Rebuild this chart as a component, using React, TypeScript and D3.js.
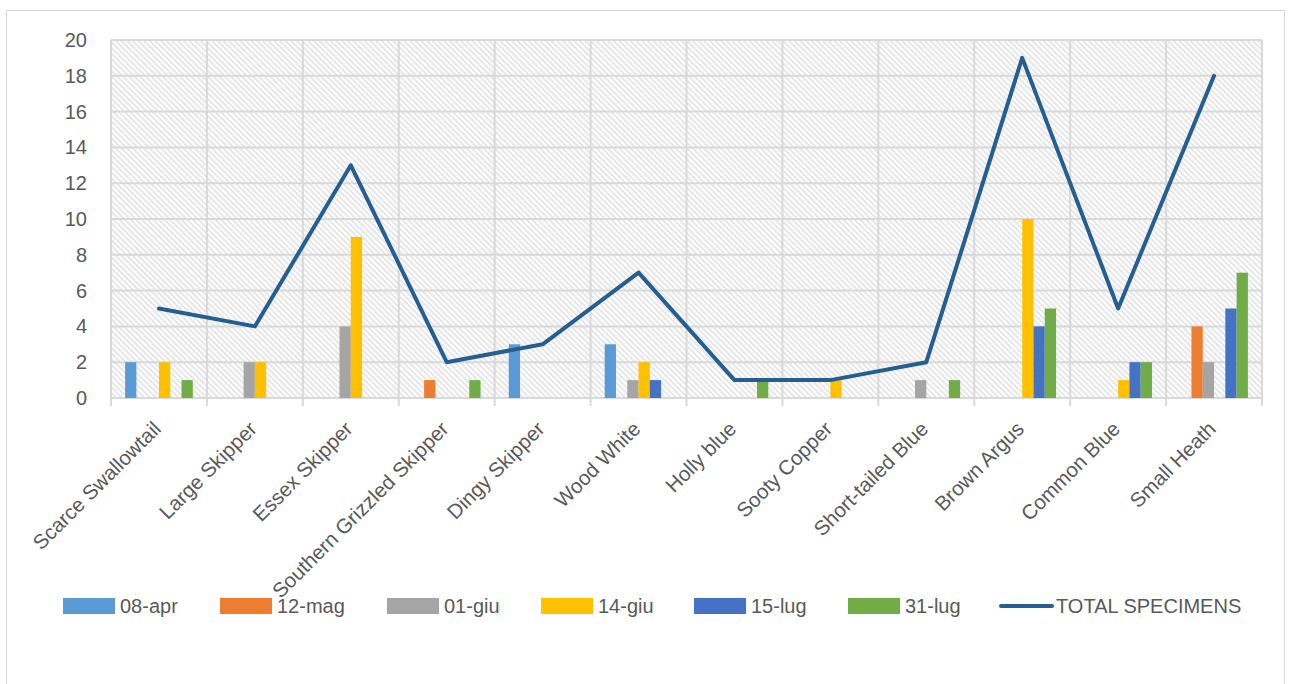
import { useEffect, useRef } from 'react';
import * as d3 from 'd3';

const categories = [
  'Scarce Swallowtail',
  'Large Skipper',
  'Essex Skipper',
  'Southern Grizzled Skipper',
  'Dingy Skipper',
  'Wood White',
  'Holly blue',
  'Sooty Copper',
  'Short-tailed Blue',
  'Brown Argus',
  'Common Blue',
  'Small Heath',
];

const seriesNames = ['08-apr', '12-mag', '01-giu', '14-giu', '15-lug', '31-lug'];
const seriesColors = ['#5B9BD5', '#ED7D31', '#A5A5A5', '#FFC000', '#4472C4', '#70AD47'];

const apr08 = [2, 0, 0, 0, 3, 3, 0, 0, 0, 0, 0, 0];
const mag12 = [0, 0, 0, 1, 0, 0, 0, 0, 0, 0, 0, 4];
const giu01 = [0, 2, 4, 0, 0, 1, 0, 0, 1, 0, 0, 2];
const giu14 = [2, 2, 9, 0, 0, 2, 0, 1, 0, 10, 1, 0];
const lug15 = [0, 0, 0, 0, 0, 1, 0, 0, 0, 4, 2, 5];
const lug31 = [1, 0, 0, 1, 0, 0, 1, 0, 1, 5, 2, 7];
const totalSpecimens = [5, 4, 13, 2, 3, 7, 1, 1, 2, 19, 5, 18];
const totalName = 'TOTAL SPECIMENS';
const totalColor = '#255E91';

const yTicks = [0, 2, 4, 6, 8, 10, 12, 14, 16, 18, 20];

const width = 1290;
const height = 684;
const margin = { left: 111, right: 28, top: 40, bottom: 286 };
const font = "'Liberation Sans', Arial, sans-serif";
const textColor = '#595959';
const gridColor = '#D9D9D9';

const App = () => {
  const svgRef = useRef<SVGSVGElement>(null!);

  useEffect(() => {
    const svg = d3.select(svgRef.current);
    svg.selectAll('*').remove();
    svg.attr('width', width).attr('height', height);

    const values = [apr08, mag12, giu01, giu14, lug15, lug31];
    const x0 = margin.left;
    const x1 = width - margin.right;
    const y0 = height - margin.bottom;
    const y1 = margin.top;

    const xScale = d3.scaleBand<string>().domain(categories).range([x0, x1]).padding(0);
    const inner = d3
      .scaleBand<string>()
      .domain(seriesNames)
      .range([0, xScale.bandwidth()])
      .paddingInner(0)
      .paddingOuter(1.25);
    const yScale = d3.scaleLinear().domain([0, 20]).range([y0, y1]);

    const defs = svg.append('defs');
    const pat = defs
      .append('pattern')
      .attr('id', 'hatch')
      .attr('patternUnits', 'userSpaceOnUse')
      .attr('width', 4)
      .attr('height', 4)
      .attr('patternTransform', 'rotate(-45)');
    pat.append('rect').attr('width', 4).attr('height', 4).attr('fill', '#fff');
    pat
      .append('line')
      .attr('x1', 1)
      .attr('y1', 0)
      .attr('x2', 1)
      .attr('y2', 4)
      .attr('stroke', '#DEDEDE')
      .attr('stroke-width', 1.5);

    svg.append('rect').attr('width', width).attr('height', height).attr('fill', '#fff');
    svg
      .append('rect')
      .attr('x', 6.5)
      .attr('y', 10.5)
      .attr('width', 1278)
      .attr('height', 700)
      .attr('fill', 'none')
      .attr('stroke', gridColor)
      .attr('stroke-width', 1);

    // plot background
    svg
      .append('rect')
      .attr('x', x0)
      .attr('y', y1)
      .attr('width', x1 - x0)
      .attr('height', y0 - y1)
      .attr('fill', 'url(#hatch)');

    // horizontal grid
    svg
      .append('g')
      .selectAll('line')
      .data(yTicks)
      .enter()
      .append('line')
      .attr('x1', x0)
      .attr('x2', x1)
      .attr('y1', d => yScale(d))
      .attr('y2', d => yScale(d))
      .attr('stroke', gridColor)
      .attr('stroke-width', 2);

    // vertical grid at category boundaries
    const bounds = categories.map(c => xScale(c)!).concat([x1]);
    svg
      .append('g')
      .selectAll('line')
      .data(bounds)
      .enter()
      .append('line')
      .attr('x1', d => d)
      .attr('x2', d => d)
      .attr('y1', y1)
      .attr('y2', y0 + 8)
      .attr('stroke', gridColor)
      .attr('stroke-width', 2);

    // y labels
    svg
      .append('g')
      .selectAll('text')
      .data(yTicks)
      .enter()
      .append('text')
      .attr('x', 87)
      .attr('y', d => yScale(d))
      .attr('dy', '0.35em')
      .attr('text-anchor', 'end')
      .attr('font-family', font)
      .attr('font-size', 20)
      .attr('fill', textColor)
      .text(d => d);

    // bars
    seriesNames.forEach((s, si) => {
      svg
        .append('g')
        .selectAll('rect')
        .data(values[si])
        .enter()
        .append('rect')
        .attr('x', (_, i) => xScale(categories[i])! + inner(s)!)
        .attr('y', d => yScale(d))
        .attr('width', inner.bandwidth())
        .attr('height', d => y0 - yScale(d))
        .attr('fill', seriesColors[si]);
    });

    // total line
    const line = d3
      .line<number>()
      .x((_, i) => xScale(categories[i])! + xScale.bandwidth() / 2)
      .y(d => yScale(d));
    svg
      .append('path')
      .datum(totalSpecimens)
      .attr('d', line)
      .attr('fill', 'none')
      .attr('stroke', totalColor)
      .attr('stroke-width', 4)
      .attr('stroke-linejoin', 'round')
      .attr('stroke-linecap', 'round');

    // x labels
    svg
      .append('g')
      .selectAll('text')
      .data(categories)
      .enter()
      .append('text')
      .attr('transform', d => {
        const cx = xScale(d)! + xScale.bandwidth() / 2 - 7;
        return `translate(${cx},${y0 + 22}) rotate(-45)`;
      })
      .attr('text-anchor', 'end')
      .attr('dy', '0.7em')
      .attr('font-family', font)
      .attr('font-size', 20.5)
      .attr('fill', textColor)
      .text(d => d);

    // legend
    const legendX = [63, 220, 387, 541, 694, 848, 999];
    const legendNames = seriesNames.concat([totalName]);
    const lg = svg.append('g');
    legendNames.forEach((name, i) => {
      const lx = legendX[i];
      if (i < seriesNames.length) {
        lg.append('rect')
          .attr('x', lx)
          .attr('y', 598)
          .attr('width', 52)
          .attr('height', 16)
          .attr('fill', seriesColors[i]);
      } else {
        lg.append('line')
          .attr('x1', lx + 2)
          .attr('x2', lx + 53)
          .attr('y1', 606)
          .attr('y2', 606)
          .attr('stroke', totalColor)
          .attr('stroke-width', 4)
          .attr('stroke-linecap', 'round');
      }
      lg.append('text')
        .attr('x', lx + 57)
        .attr('y', 606)
        .attr('dy', '0.35em')
        .attr('font-family', font)
        .attr('font-size', 20)
        .attr('fill', textColor)
        .text(name);
    });
  }, []);

  return <svg ref={svgRef} style={{ position: 'absolute', left: 0, top: 0 }}></svg>;
};

export default App;
